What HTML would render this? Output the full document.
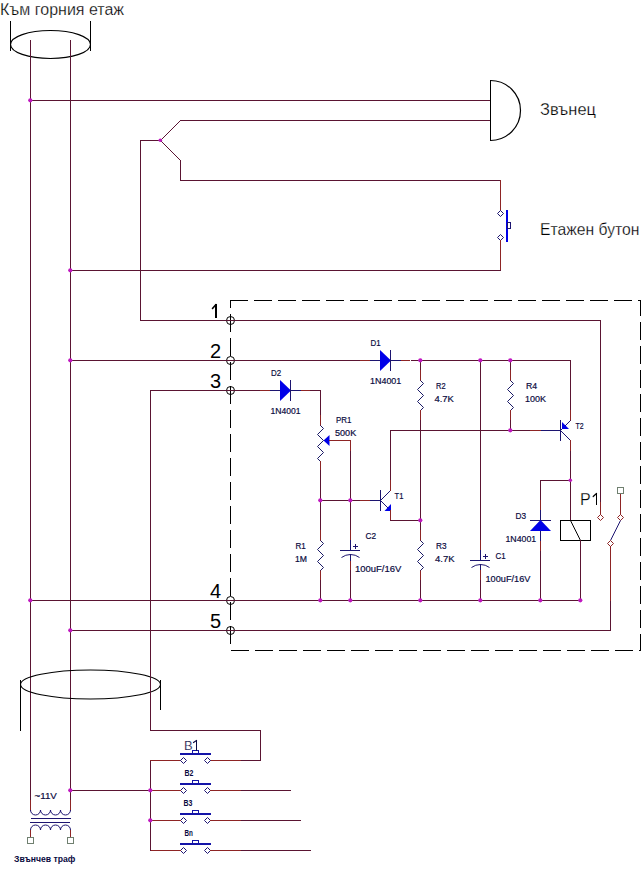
<!DOCTYPE html>
<html><head><meta charset="utf-8"><style>
html,body{margin:0;padding:0;background:#fff;}
svg{display:block;}
text{font-family:"Liberation Sans",sans-serif;}
</style></head><body>
<svg width="641" height="876" viewBox="0 0 641 876">
<text x="0" y="15" font-size="16" fill="#000000" font-weight="normal" text-anchor="start" letter-spacing="0" stroke="#fff" stroke-width="0.25">Към горния етаж</text>
<ellipse cx="50.5" cy="44.5" rx="40" ry="14" fill="none" stroke="#000" stroke-width="1.2"/>
<rect x="10" y="21" width="1" height="30" fill="#000000"/>
<rect x="90" y="21" width="1" height="30" fill="#000000"/>
<rect x="30" y="40" width="1" height="761" fill="#5a1432"/>
<rect x="70" y="40" width="1" height="761" fill="#5a1432"/>
<rect x="30" y="100" width="461" height="1" fill="#5a1432"/>
<rect x="180" y="120" width="311" height="1" fill="#5a1432"/>
<rect x="490" y="80" width="1" height="61" fill="#000000"/>
<path d="M490.5,80.5 A30,30 0 0 1 490.5,140.5" fill="none" stroke="#000" stroke-width="1.2"/>
<text x="540" y="115" font-size="16.5" fill="#000000" font-weight="normal" text-anchor="start" letter-spacing="0" textLength="56" lengthAdjust="spacingAndGlyphs" stroke="#fff" stroke-width="0.25">Звънец</text>
<rect x="140" y="140" width="1" height="181" fill="#5a1432"/>
<rect x="140" y="140" width="21" height="1" fill="#5a1432"/>
<line x1="160.5" y1="140.5" x2="180.5" y2="120.5" stroke="#5a1432" stroke-width="1"/>
<line x1="160.5" y1="140.5" x2="180.5" y2="160.5" stroke="#5a1432" stroke-width="1"/>
<rect x="180" y="160" width="1" height="21" fill="#5a1432"/>
<rect x="180" y="180" width="321" height="1" fill="#5a1432"/>
<rect x="500" y="180" width="1" height="31" fill="#8e2424"/>
<polygon points="500.5,210.5 503.5,213.5 500.5,216.5 497.5,213.5" fill="#fff" stroke="#1c1470" stroke-width="1"/>
<polygon points="500.5,234.5 503.5,237.5 500.5,240.5 497.5,237.5" fill="#fff" stroke="#1c1470" stroke-width="1"/>
<rect x="506" y="210" width="2" height="32" fill="#0000e8"/>
<rect x="507.5" y="222.5" width="3" height="6" fill="#fff" stroke="#1c1470" stroke-width="1"/>
<rect x="500" y="240" width="1" height="31" fill="#8e2424"/>
<rect x="70" y="270" width="431" height="1" fill="#5a1432"/>
<text x="540" y="235" font-size="16.5" fill="#000000" font-weight="normal" text-anchor="start" letter-spacing="0" textLength="99.5" lengthAdjust="spacingAndGlyphs" stroke="#fff" stroke-width="0.25">Етажен бутон</text>
<rect x="230" y="300" width="18" height="1" fill="#000"/>
<rect x="254" y="300" width="18" height="1" fill="#000"/>
<rect x="278" y="300" width="18" height="1" fill="#000"/>
<rect x="302" y="300" width="18" height="1" fill="#000"/>
<rect x="326" y="300" width="18" height="1" fill="#000"/>
<rect x="350" y="300" width="18" height="1" fill="#000"/>
<rect x="374" y="300" width="18" height="1" fill="#000"/>
<rect x="398" y="300" width="18" height="1" fill="#000"/>
<rect x="422" y="300" width="18" height="1" fill="#000"/>
<rect x="446" y="300" width="18" height="1" fill="#000"/>
<rect x="470" y="300" width="18" height="1" fill="#000"/>
<rect x="494" y="300" width="18" height="1" fill="#000"/>
<rect x="518" y="300" width="18" height="1" fill="#000"/>
<rect x="542" y="300" width="18" height="1" fill="#000"/>
<rect x="566" y="300" width="18" height="1" fill="#000"/>
<rect x="590" y="300" width="18" height="1" fill="#000"/>
<rect x="614" y="300" width="18" height="1" fill="#000"/>
<rect x="638" y="300" width="3" height="1" fill="#000"/>
<rect x="640" y="300" width="1" height="16" fill="#000"/>
<rect x="640" y="322" width="1" height="18" fill="#000"/>
<rect x="640" y="346" width="1" height="18" fill="#000"/>
<rect x="640" y="370" width="1" height="18" fill="#000"/>
<rect x="640" y="394" width="1" height="18" fill="#000"/>
<rect x="640" y="418" width="1" height="18" fill="#000"/>
<rect x="640" y="442" width="1" height="18" fill="#000"/>
<rect x="640" y="466" width="1" height="18" fill="#000"/>
<rect x="640" y="490" width="1" height="18" fill="#000"/>
<rect x="640" y="514" width="1" height="18" fill="#000"/>
<rect x="640" y="538" width="1" height="18" fill="#000"/>
<rect x="640" y="562" width="1" height="18" fill="#000"/>
<rect x="640" y="586" width="1" height="18" fill="#000"/>
<rect x="640" y="610" width="1" height="18" fill="#000"/>
<rect x="640" y="634" width="1" height="17" fill="#000"/>
<rect x="231" y="650" width="18" height="1" fill="#000"/>
<rect x="255" y="650" width="18" height="1" fill="#000"/>
<rect x="279" y="650" width="18" height="1" fill="#000"/>
<rect x="303" y="650" width="18" height="1" fill="#000"/>
<rect x="327" y="650" width="18" height="1" fill="#000"/>
<rect x="351" y="650" width="18" height="1" fill="#000"/>
<rect x="375" y="650" width="18" height="1" fill="#000"/>
<rect x="399" y="650" width="18" height="1" fill="#000"/>
<rect x="423" y="650" width="18" height="1" fill="#000"/>
<rect x="447" y="650" width="18" height="1" fill="#000"/>
<rect x="471" y="650" width="18" height="1" fill="#000"/>
<rect x="495" y="650" width="18" height="1" fill="#000"/>
<rect x="519" y="650" width="18" height="1" fill="#000"/>
<rect x="543" y="650" width="18" height="1" fill="#000"/>
<rect x="567" y="650" width="18" height="1" fill="#000"/>
<rect x="591" y="650" width="18" height="1" fill="#000"/>
<rect x="615" y="650" width="18" height="1" fill="#000"/>
<rect x="639" y="650" width="2" height="1" fill="#000"/>
<rect x="230" y="300" width="1" height="8" fill="#000"/>
<rect x="230" y="314" width="1" height="18" fill="#000"/>
<rect x="230" y="338" width="1" height="18" fill="#000"/>
<rect x="230" y="362" width="1" height="18" fill="#000"/>
<rect x="230" y="386" width="1" height="18" fill="#000"/>
<rect x="230" y="410" width="1" height="18" fill="#000"/>
<rect x="230" y="434" width="1" height="18" fill="#000"/>
<rect x="230" y="458" width="1" height="18" fill="#000"/>
<rect x="230" y="482" width="1" height="18" fill="#000"/>
<rect x="230" y="506" width="1" height="18" fill="#000"/>
<rect x="230" y="530" width="1" height="18" fill="#000"/>
<rect x="230" y="554" width="1" height="18" fill="#000"/>
<rect x="230" y="578" width="1" height="18" fill="#000"/>
<rect x="230" y="602" width="1" height="18" fill="#000"/>
<rect x="230" y="626" width="1" height="18" fill="#000"/>
<circle cx="230.5" cy="320.5" r="4" fill="none" stroke="#000000" stroke-width="1"/>
<rect x="215" y="304" width="2" height="14" fill="#000000"/>
<line x1="216.0" y1="304.5" x2="212.5" y2="308.5" stroke="#000000" stroke-width="1.6" stroke-linecap="round"/>
<circle cx="230.5" cy="360.5" r="4" fill="none" stroke="#000000" stroke-width="1"/>
<text x="221" y="358" font-size="20" fill="#000000" font-weight="normal" text-anchor="end" letter-spacing="0">2</text>
<circle cx="230.5" cy="390.5" r="4" fill="none" stroke="#000000" stroke-width="1"/>
<text x="221" y="388" font-size="20" fill="#000000" font-weight="normal" text-anchor="end" letter-spacing="0">3</text>
<circle cx="230.5" cy="600.5" r="4" fill="none" stroke="#000000" stroke-width="1"/>
<text x="221" y="598" font-size="20" fill="#000000" font-weight="normal" text-anchor="end" letter-spacing="0">4</text>
<circle cx="230.5" cy="630.5" r="4" fill="none" stroke="#000000" stroke-width="1"/>
<text x="221" y="628" font-size="20" fill="#000000" font-weight="normal" text-anchor="end" letter-spacing="0">5</text>
<rect x="140" y="320" width="461" height="1" fill="#5a1432"/>
<rect x="600" y="320" width="1" height="182" fill="#5a1432"/>
<rect x="600" y="502" width="1" height="13" fill="#8e2424"/>
<rect x="70" y="360" width="501" height="1" fill="#5a1432"/>
<rect x="360" y="360" width="10" height="1" fill="#8e2424"/>
<rect x="370" y="360" width="31" height="1" fill="#1c1470"/>
<rect x="401" y="360" width="9" height="1" fill="#8e2424"/>
<rect x="410" y="360" width="1" height="1" fill="#fff"/>
<polygon points="380,350 391,360.5 380,371" fill="#0000e8"/>
<rect x="390" y="350" width="1" height="21" fill="#1c1470"/>
<rect x="420" y="360" width="1" height="11" fill="#5a1432"/>
<rect x="420" y="370" width="1" height="11" fill="#8e2424"/>
<polyline points="420.5,380.5 423.5,383.5 417.5,389.5 423.5,395.5 417.5,401.5 423.5,407.5 420.5,410.5" fill="none" stroke="#1a1a66" stroke-width="1"/>
<rect x="420" y="410" width="1" height="11" fill="#8e2424"/>
<rect x="420" y="420" width="1" height="111" fill="#5a1432"/>
<rect x="420" y="530" width="1" height="11" fill="#8e2424"/>
<rect x="420" y="570" width="1" height="11" fill="#8e2424"/>
<rect x="420" y="580" width="1" height="21" fill="#5a1432"/>
<rect x="510" y="360" width="1" height="11" fill="#5a1432"/>
<rect x="510" y="370" width="1" height="11" fill="#8e2424"/>
<polyline points="510.5,380.5 513.5,383.5 507.5,389.5 513.5,395.5 507.5,401.5 513.5,407.5 510.5,410.5" fill="none" stroke="#1a1a66" stroke-width="1"/>
<rect x="510" y="410" width="1" height="11" fill="#8e2424"/>
<rect x="510" y="420" width="1" height="11" fill="#5a1432"/>
<rect x="480" y="360" width="1" height="181" fill="#5a1432"/>
<rect x="480" y="540" width="1" height="11" fill="#8e2424"/>
<rect x="480" y="550" width="1" height="11" fill="#1c1470"/>
<rect x="470" y="560" width="20" height="1" fill="#1c1470"/>
<path d="M471.5,567.5 A15,15 0 0 1 489.5,567.5" fill="none" stroke="#1c1470" stroke-width="1"/>
<rect x="480" y="564" width="1" height="7" fill="#1c1470"/>
<rect x="480" y="570" width="1" height="11" fill="#8e2424"/>
<rect x="480" y="580" width="1" height="21" fill="#5a1432"/>
<rect x="483" y="556" width="5" height="1" fill="#1c1470"/>
<rect x="485" y="554" width="1" height="5" fill="#1c1470"/>
<rect x="570" y="360" width="1" height="50" fill="#5a1432"/>
<rect x="570" y="410" width="1" height="11" fill="#8e2424"/>
<rect x="390" y="430" width="171" height="1" fill="#5a1432"/>
<rect x="530" y="430" width="11" height="1" fill="#8e2424"/>
<rect x="541" y="430" width="20" height="1" fill="#1c1470"/>
<rect x="560" y="420" width="1" height="21" fill="#1c1470"/>
<line x1="570.5" y1="420.5" x2="560.5" y2="430.5" stroke="#1c1470" stroke-width="1"/>
<line x1="560.5" y1="430.5" x2="570.5" y2="440.5" stroke="#1c1470" stroke-width="1"/>
<polygon points="562,422 562,429 569,429" fill="#0000e8"/>
<rect x="570" y="440" width="1" height="11" fill="#8e2424"/>
<rect x="570" y="451" width="1" height="70" fill="#5a1432"/>
<rect x="540" y="480" width="31" height="1" fill="#5a1432"/>
<rect x="540" y="480" width="1" height="121" fill="#5a1432"/>
<rect x="540" y="500" width="1" height="10" fill="#8e2424"/>
<rect x="540" y="510" width="1" height="31" fill="#1c1470"/>
<rect x="540" y="541" width="1" height="10" fill="#8e2424"/>
<rect x="530" y="520" width="21" height="1" fill="#1c1470"/>
<polygon points="540.5,520 530,531 551,531" fill="#0000e8"/>
<rect x="560.5" y="520.5" width="30" height="20" fill="none" stroke="#000" stroke-width="1"/>
<line x1="570.5" y1="520.5" x2="580.5" y2="540.5" stroke="#000000" stroke-width="1"/>
<rect x="580" y="540" width="1" height="61" fill="#5a1432"/>
<text x="580" y="505" font-size="16" fill="#000000" font-weight="normal" text-anchor="start" letter-spacing="0" stroke="#fff" stroke-width="0.25">P</text>
<rect x="596" y="493" width="1" height="12" fill="#000000"/>
<line x1="596.5" y1="493.5" x2="593.2" y2="496.5" stroke="#000000" stroke-width="1.2" stroke-linecap="round"/>
<polygon points="600.5,514.5 603.5,517.5 600.5,520.5 597.5,517.5" fill="#fff" stroke="#8e2424" stroke-width="1"/>
<rect x="617.5" y="487.5" width="6" height="6" fill="none" stroke="#708070" stroke-width="1"/>
<rect x="620" y="494" width="1" height="21" fill="#8e2424"/>
<polygon points="620.5,514.5 623.5,517.5 620.5,520.5 617.5,517.5" fill="#fff" stroke="#8e2424" stroke-width="1"/>
<line x1="620.5" y1="520.5" x2="610.5" y2="540.5" stroke="#1c1470" stroke-width="1"/>
<polygon points="610.5,540.5 613.5,543.5 610.5,546.5 607.5,543.5" fill="#fff" stroke="#8e2424" stroke-width="1"/>
<rect x="610" y="546" width="1" height="55" fill="#8e2424"/>
<rect x="610" y="601" width="1" height="30" fill="#5a1432"/>
<rect x="150" y="390" width="171" height="1" fill="#5a1432"/>
<rect x="260" y="390" width="10" height="1" fill="#8e2424"/>
<rect x="270" y="390" width="31" height="1" fill="#1c1470"/>
<rect x="301" y="390" width="9" height="1" fill="#8e2424"/>
<polygon points="280,380 291,390.5 280,401" fill="#0000e8"/>
<rect x="290" y="380" width="1" height="21" fill="#1c1470"/>
<rect x="320" y="390" width="1" height="25" fill="#5a1432"/>
<rect x="320" y="415" width="1" height="11" fill="#8e2424"/>
<polyline points="320.5,425.5 323.5,428.5 317.5,434.5 323.5,440.5 317.5,446.5 323.5,452.5 317.5,458.5 320.5,461.5" fill="none" stroke="#1a1a66" stroke-width="1"/>
<rect x="320" y="461" width="1" height="10" fill="#8e2424"/>
<rect x="320" y="470" width="1" height="61" fill="#5a1432"/>
<rect x="320" y="530" width="1" height="11" fill="#8e2424"/>
<rect x="320" y="570" width="1" height="11" fill="#8e2424"/>
<rect x="320" y="580" width="1" height="21" fill="#5a1432"/>
<polygon points="323.5,440.5 329.5,435 329.5,446" fill="#0000e8"/>
<rect x="329" y="440" width="22" height="1" fill="#8e2424"/>
<rect x="350" y="440" width="1" height="11" fill="#8e2424"/>
<rect x="350" y="451" width="1" height="80" fill="#5a1432"/>
<rect x="350" y="530" width="1" height="11" fill="#8e2424"/>
<rect x="350" y="560" width="1" height="11" fill="#8e2424"/>
<rect x="350" y="570" width="1" height="31" fill="#5a1432"/>
<rect x="320" y="500" width="61" height="1" fill="#5a1432"/>
<rect x="360" y="500" width="10" height="1" fill="#8e2424"/>
<rect x="370" y="500" width="11" height="1" fill="#1c1470"/>
<rect x="380" y="490" width="1" height="21" fill="#1c1470"/>
<line x1="380.5" y1="500.5" x2="390.5" y2="490.5" stroke="#1c1470" stroke-width="1"/>
<line x1="380.5" y1="500.5" x2="390.5" y2="510.5" stroke="#1c1470" stroke-width="1"/>
<polygon points="384.5,511 391,504 391,511" fill="#0000e8"/>
<rect x="390" y="430" width="1" height="50" fill="#5a1432"/>
<rect x="390" y="480" width="1" height="11" fill="#8e2424"/>
<rect x="390" y="510" width="1" height="11" fill="#8e2424"/>
<rect x="390" y="520" width="31" height="1" fill="#5a1432"/>
<polyline points="320.5,540.5 323.5,543.5 317.5,549.5 323.5,555.5 317.5,561.5 323.5,567.5 320.5,570.5" fill="none" stroke="#1a1a66" stroke-width="1"/>
<polyline points="420.5,540.5 423.5,543.5 417.5,549.5 423.5,555.5 417.5,561.5 423.5,567.5 420.5,570.5" fill="none" stroke="#1a1a66" stroke-width="1"/>
<rect x="340" y="550" width="20" height="1" fill="#1c1470"/>
<path d="M341.5,557.5 A15,15 0 0 1 359.5,557.5" fill="none" stroke="#1c1470" stroke-width="1"/>
<rect x="350" y="540" width="1" height="11" fill="#1c1470"/>
<rect x="350" y="554" width="1" height="7" fill="#1c1470"/>
<rect x="353" y="546" width="5" height="1" fill="#1c1470"/>
<rect x="355" y="544" width="1" height="5" fill="#1c1470"/>
<rect x="30" y="600" width="551" height="1" fill="#5a1432"/>
<rect x="70" y="630" width="541" height="1" fill="#5a1432"/>
<ellipse cx="90.5" cy="684.5" rx="70" ry="14.5" fill="none" stroke="#000" stroke-width="1.15"/>
<rect x="20" y="680" width="1" height="51" fill="#000000"/>
<rect x="160" y="680" width="1" height="30" fill="#000000"/>
<rect x="150" y="390" width="1" height="341" fill="#5a1432"/>
<rect x="150" y="730" width="111" height="1" fill="#5a1432"/>
<rect x="260" y="730" width="1" height="31" fill="#5a1432"/>
<rect x="210" y="760" width="51" height="1" fill="#5a1432"/>
<rect x="150" y="760" width="1" height="91" fill="#5a1432"/>
<rect x="150" y="760" width="31" height="1" fill="#8e2424"/>
<rect x="210" y="760" width="31" height="1" fill="#8e2424"/>
<polygon points="183.5,757.5 186.5,760.5 183.5,763.5 180.5,760.5" fill="#fff" stroke="#1c1470" stroke-width="1"/>
<polygon points="207.5,757.5 210.5,760.5 207.5,763.5 204.5,760.5" fill="#fff" stroke="#1c1470" stroke-width="1"/>
<rect x="180" y="753" width="31" height="2" fill="#1414a8"/>
<rect x="192.5" y="750.5" width="6" height="3" fill="#fff" stroke="#1414a8" stroke-width="1"/>
<text x="184" y="750" font-size="13" fill="#0a0a40" font-weight="normal" text-anchor="start" letter-spacing="0" stroke="#fff" stroke-width="0.2">B</text>
<rect x="196" y="740" width="1" height="11" fill="#0a0a40"/>
<line x1="196.5" y1="740.5" x2="193.5" y2="742.5" stroke="#0a0a40" stroke-width="1.2" stroke-linecap="round"/>
<polygon points="183.5,787.5 186.5,790.5 183.5,793.5 180.5,790.5" fill="#fff" stroke="#1c1470" stroke-width="1"/>
<polygon points="207.5,787.5 210.5,790.5 207.5,793.5 204.5,790.5" fill="#fff" stroke="#1c1470" stroke-width="1"/>
<rect x="180" y="783" width="31" height="2" fill="#1414a8"/>
<rect x="192.5" y="780.5" width="6" height="3" fill="#fff" stroke="#1414a8" stroke-width="1"/>
<polygon points="183.5,817.5 186.5,820.5 183.5,823.5 180.5,820.5" fill="#fff" stroke="#1c1470" stroke-width="1"/>
<polygon points="207.5,817.5 210.5,820.5 207.5,823.5 204.5,820.5" fill="#fff" stroke="#1c1470" stroke-width="1"/>
<rect x="180" y="813" width="31" height="2" fill="#1414a8"/>
<rect x="192.5" y="810.5" width="6" height="3" fill="#fff" stroke="#1414a8" stroke-width="1"/>
<polygon points="183.5,847.5 186.5,850.5 183.5,853.5 180.5,850.5" fill="#fff" stroke="#1c1470" stroke-width="1"/>
<polygon points="207.5,847.5 210.5,850.5 207.5,853.5 204.5,850.5" fill="#fff" stroke="#1c1470" stroke-width="1"/>
<rect x="180" y="843" width="31" height="2" fill="#1414a8"/>
<rect x="192.5" y="840.5" width="6" height="3" fill="#fff" stroke="#1414a8" stroke-width="1"/>
<rect x="70" y="790" width="81" height="1" fill="#5a1432"/>
<rect x="151" y="790" width="30" height="1" fill="#8e2424"/>
<rect x="210" y="790" width="31" height="1" fill="#8e2424"/>
<rect x="241" y="790" width="50" height="1" fill="#5a1432"/>
<rect x="151" y="820" width="30" height="1" fill="#8e2424"/>
<rect x="210" y="820" width="31" height="1" fill="#8e2424"/>
<rect x="241" y="820" width="60" height="1" fill="#5a1432"/>
<rect x="151" y="850" width="30" height="1" fill="#8e2424"/>
<rect x="210" y="850" width="31" height="1" fill="#8e2424"/>
<rect x="241" y="850" width="70" height="1" fill="#5a1432"/>
<rect x="30" y="800" width="1" height="11" fill="#8e2424"/>
<rect x="70" y="800" width="1" height="11" fill="#8e2424"/>
<path d="M30.5,810 a5,5 0 0 0 10,0 a5,5 0 0 0 10,0 a5,5 0 0 0 10,0 a5,5 0 0 0 10,0" fill="none" stroke="#1c1470" stroke-width="1"/>
<rect x="31" y="818" width="40" height="1" fill="#1c1470"/>
<rect x="30" y="822" width="40" height="1" fill="#1c1470"/>
<path d="M30.5,830 a5,5 0 0 1 10,0 a5,5 0 0 1 10,0 a5,5 0 0 1 10,0 a5,5 0 0 1 10,0" fill="none" stroke="#1c1470" stroke-width="1"/>
<rect x="30" y="830" width="1" height="11" fill="#8e2424"/>
<rect x="70" y="830" width="1" height="11" fill="#8e2424"/>
<rect x="27.5" y="837.5" width="6" height="6" fill="#fff" stroke="#708070" stroke-width="1"/>
<rect x="67.5" y="837.5" width="6" height="6" fill="#fff" stroke="#708070" stroke-width="1"/>
<circle cx="30.3" cy="100.3" r="2.1" fill="#c018c0"/>
<circle cx="160.3" cy="140.3" r="1.8" fill="#c018c0"/>
<circle cx="70.3" cy="270.3" r="2.1" fill="#c018c0"/>
<circle cx="70.3" cy="360.3" r="2.1" fill="#c018c0"/>
<circle cx="420.3" cy="360.3" r="2.1" fill="#c018c0"/>
<circle cx="480.3" cy="360.3" r="2.1" fill="#c018c0"/>
<circle cx="510.3" cy="360.3" r="2.1" fill="#c018c0"/>
<circle cx="510.3" cy="430.3" r="2.1" fill="#c018c0"/>
<circle cx="570.3" cy="480.3" r="1.8" fill="#c018c0"/>
<circle cx="580.3" cy="600.3" r="2.1" fill="#c018c0"/>
<circle cx="320.3" cy="500.3" r="2.1" fill="#c018c0"/>
<circle cx="350.3" cy="500.3" r="2.1" fill="#c018c0"/>
<circle cx="420.3" cy="520.3" r="2.1" fill="#c018c0"/>
<circle cx="30.3" cy="600.3" r="2.1" fill="#c018c0"/>
<circle cx="320.3" cy="600.3" r="2.1" fill="#c018c0"/>
<circle cx="350.3" cy="600.3" r="2.1" fill="#c018c0"/>
<circle cx="420.3" cy="600.3" r="2.1" fill="#c018c0"/>
<circle cx="480.3" cy="600.3" r="2.1" fill="#c018c0"/>
<circle cx="540.3" cy="600.3" r="2.1" fill="#c018c0"/>
<circle cx="70.3" cy="630.3" r="2.1" fill="#c018c0"/>
<circle cx="70.3" cy="790.3" r="2.1" fill="#c018c0"/>
<circle cx="150.3" cy="790.3" r="2.1" fill="#c018c0"/>
<circle cx="150.3" cy="820.3" r="2.1" fill="#c018c0"/>
<text id="lbl0" x="370.50" y="346.00" font-size="9.5" fill="#0a0a40" font-weight="normal" stroke="#0a0a40" stroke-width="0.2" textLength="10.16" lengthAdjust="spacingAndGlyphs">D1</text>
<text id="lbl1" x="370.00" y="384.00" font-size="9.5" fill="#0a0a40" font-weight="normal" stroke="#0a0a40" stroke-width="0.2" textLength="31.28" lengthAdjust="spacingAndGlyphs">1N4001</text>
<text id="lbl2" x="271.00" y="376.00" font-size="9.5" fill="#0a0a40" font-weight="normal" stroke="#0a0a40" stroke-width="0.2" textLength="10.16" lengthAdjust="spacingAndGlyphs">D2</text>
<text id="lbl3" x="270.50" y="414.00" font-size="9.5" fill="#0a0a40" font-weight="normal" stroke="#0a0a40" stroke-width="0.2" textLength="30.08" lengthAdjust="spacingAndGlyphs">1N4001</text>
<text id="lbl4" x="436.00" y="389.00" font-size="9.5" fill="#0a0a40" font-weight="normal" stroke="#0a0a40" stroke-width="0.2" textLength="9.56" lengthAdjust="spacingAndGlyphs">R2</text>
<text id="lbl5" x="434.50" y="402.00" font-size="9.5" fill="#0a0a40" font-weight="normal" stroke="#0a0a40" stroke-width="0.2" textLength="19.35" lengthAdjust="spacingAndGlyphs">4.7K</text>
<text id="lbl6" x="526.00" y="389.00" font-size="9.5" fill="#0a0a40" font-weight="normal" stroke="#0a0a40" stroke-width="0.2" textLength="11.16" lengthAdjust="spacingAndGlyphs">R4</text>
<text id="lbl7" x="525.00" y="402.00" font-size="9.5" fill="#0a0a40" font-weight="normal" stroke="#0a0a40" stroke-width="0.2" textLength="20.99" lengthAdjust="spacingAndGlyphs">100K</text>
<text id="lbl8" x="336.00" y="423.00" font-size="9.5" fill="#0a0a40" font-weight="normal" stroke="#0a0a40" stroke-width="0.2" textLength="15.48" lengthAdjust="spacingAndGlyphs">PR1</text>
<text id="lbl9" x="335.00" y="436.00" font-size="9.5" fill="#0a0a40" font-weight="normal" stroke="#0a0a40" stroke-width="0.2" textLength="21.19" lengthAdjust="spacingAndGlyphs">500K</text>
<text id="lbl10" x="394.50" y="499.00" font-size="9.5" fill="#0a0a40" font-weight="normal" stroke="#0a0a40" stroke-width="0.2" textLength="8.89" lengthAdjust="spacingAndGlyphs">T1</text>
<text id="lbl11" x="575.50" y="429.00" font-size="9.5" fill="#0a0a40" font-weight="normal" stroke="#0a0a40" stroke-width="0.2" textLength="8.09" lengthAdjust="spacingAndGlyphs">T2</text>
<text id="lbl12" x="295.50" y="549.00" font-size="9.5" fill="#0a0a40" font-weight="normal" stroke="#0a0a40" stroke-width="0.2" textLength="10.36" lengthAdjust="spacingAndGlyphs">R1</text>
<text id="lbl13" x="295.00" y="562.00" font-size="9.5" fill="#0a0a40" font-weight="normal" stroke="#0a0a40" stroke-width="0.2" textLength="12.00" lengthAdjust="spacingAndGlyphs">1M</text>
<text id="lbl14" x="436.00" y="549.00" font-size="9.5" fill="#0a0a40" font-weight="normal" stroke="#0a0a40" stroke-width="0.2" textLength="10.56" lengthAdjust="spacingAndGlyphs">R3</text>
<text id="lbl15" x="435.00" y="562.00" font-size="9.5" fill="#0a0a40" font-weight="normal" stroke="#0a0a40" stroke-width="0.2" textLength="19.55" lengthAdjust="spacingAndGlyphs">4.7K</text>
<text id="lbl16" x="365.50" y="539.00" font-size="9.5" fill="#0a0a40" font-weight="normal" stroke="#0a0a40" stroke-width="0.2" textLength="10.56" lengthAdjust="spacingAndGlyphs">C2</text>
<text id="lbl17" x="355.00" y="572.00" font-size="9.5" fill="#0a0a40" font-weight="normal" stroke="#0a0a40" stroke-width="0.2" textLength="46.28" lengthAdjust="spacingAndGlyphs">100uF/16V</text>
<text id="lbl18" x="495.50" y="559.00" font-size="9.5" fill="#0a0a40" font-weight="normal" stroke="#0a0a40" stroke-width="0.2" textLength="10.16" lengthAdjust="spacingAndGlyphs">C1</text>
<text id="lbl19" x="485.50" y="582.00" font-size="9.5" fill="#0a0a40" font-weight="normal" stroke="#0a0a40" stroke-width="0.2" textLength="44.88" lengthAdjust="spacingAndGlyphs">100uF/16V</text>
<text id="lbl20" x="515.50" y="519.00" font-size="9.5" fill="#0a0a40" font-weight="normal" stroke="#0a0a40" stroke-width="0.2" textLength="10.56" lengthAdjust="spacingAndGlyphs">D3</text>
<text id="lbl21" x="505.50" y="542.00" font-size="9.5" fill="#0a0a40" font-weight="normal" stroke="#0a0a40" stroke-width="0.2" textLength="30.68" lengthAdjust="spacingAndGlyphs">1N4001</text>
<text id="lbl22" x="34.50" y="799.00" font-size="9.5" fill="#0a0a40" font-weight="normal" stroke="#0a0a40" stroke-width="0.2" textLength="22.35" lengthAdjust="spacingAndGlyphs">~11V</text>
<text id="lbl23" x="184.50" y="776.00" font-size="9" fill="#0a0a40" font-weight="bold" textLength="8.92" lengthAdjust="spacingAndGlyphs">B2</text>
<text id="lbl24" x="183.50" y="806.00" font-size="9" fill="#0a0a40" font-weight="bold" textLength="8.92" lengthAdjust="spacingAndGlyphs">B3</text>
<text id="lbl25" x="184.50" y="836.00" font-size="9" fill="#0a0a40" font-weight="bold" textLength="8.40" lengthAdjust="spacingAndGlyphs">Bn</text>
<text id="lbl26" x="14.00" y="862.00" font-size="9" fill="#0a0a40" font-weight="bold" textLength="61.40" lengthAdjust="spacingAndGlyphs">Звънчев траф</text>
</svg>
</body></html>
